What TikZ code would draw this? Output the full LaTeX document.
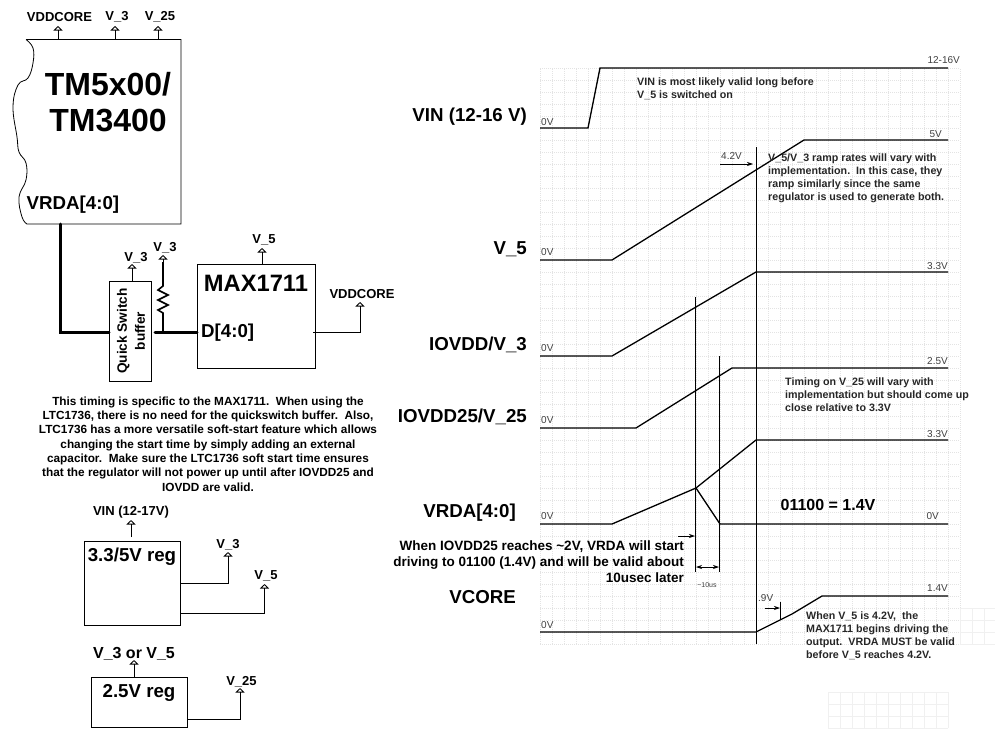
\documentclass[tikz,border=0pt]{standalone}
\usepackage{fontspec}
\setmainfont{Liberation Sans}
\usetikzlibrary{arrows.meta}
\tikzset{
    griddot/.style={gray!22, line width=0.4pt, dash pattern=on 1pt off 1pt, xstep=12pt, ystep=12pt},
    gridfaint/.style={gray!12, line width=0.4pt, xstep=12pt, ystep=12pt},
    wave/.style={line width=1.3pt},
    marker/.style={line width=0.7pt},
    measure/.style={line width=0.7pt, -{Stealth[length=6pt,width=4pt]}},
    measureboth/.style={line width=0.7pt, {Stealth[length=6pt,width=4pt]}-{Stealth[length=6pt,width=4pt]}},
    level/.style={font=\fontsize{10}{12}\selectfont, text=black!75, inner sep=0pt},
    signal/.style={font=\fontsize{18.7}{21}\selectfont\bfseries, inner sep=0pt, anchor=east},
    note/.style={font=\fontsize{10.7}{13}\selectfont\bfseries, text=black!85, inner sep=0pt, anchor=west, align=left},
    remark/.style={font=\fontsize{11.8}{14.3}\selectfont\bfseries, inner sep=0pt, align=center},
    blockbox/.style={draw, line width=0.8pt, inner sep=0pt},
    pintext/.style={font=\fontsize{13}{15}\selectfont\bfseries, inner sep=0pt},
    regname/.style={font=\fontsize{18.7}{21}\selectfont\bfseries, inner sep=0pt},
    pin/.style={line width=0.8pt, -{Triangle[open,length=4.5pt,width=9pt]}},
    bus/.style={line width=3pt},
    pullup/.style={line width=1.6pt}
}
\begin{document}
\begin{tikzpicture}[x=1pt, y=-1pt]
    \useasboundingbox (0,0) rectangle (995,728);

    % Grid
    \draw[griddot, shift={(0,8)}] (540,60) grid (960,636);
    \draw[gridfaint, shift={(0,8)}] (960,600) grid (995,636);
    \draw[gridfaint, shift={(0,8)}] (828,684) grid (948,720);

    % Waveforms
    \draw[wave] (540,128) -- (588,128) -- (600,68) -- (948,68);
    \draw[wave] (540,260) -- (612,260) -- (804,140) -- (948,140);
    \draw[wave] (540,356) -- (612,356) -- (756,272) -- (948,272);
    \draw[wave] (540,428) -- (636,428) -- (732,368) -- (948,368);
    \draw[wave] (540,524) -- (612,524) -- (696,488) -- (756,440) -- (948,440);
    \draw[wave] (696,488) -- (720,524) -- (948,524);
    \draw[wave] (540,632) -- (756,632) -- (792,614) -- (822,596) -- (948,596);

    % Vertical markers
    \draw[marker] (756,147) -- (756,644);
    \draw[marker] (695,297) -- (695,572);
    \draw[marker] (719,356) -- (719,572);
    \draw[marker] (780,602) -- (780,620);
    \draw[measure] (720,164) -- (753,164);
    \draw[measure] (678,536) -- (695,536);
    \draw[measureboth] (696,567) -- (719,567);
    \draw[measure] (765,608) -- (780,608);

    % Levels
    \node[level, anchor=west] (zeroVin) at (541,122) {0V};
    \node[level, anchor=west] (zeroFive) at (541,252) {0V};
    \node[level, anchor=west] (zeroThree) at (541,348) {0V};
    \node[level, anchor=west] (zeroTwo) at (541,420) {0V};
    \node[level, anchor=west] (zeroVrda) at (541,516) {0V};
    \node[level, anchor=west] (zeroCore) at (541,625) {0V};
    \node[level, anchor=east] (topVin) at (960,60) {12-16V};
    \node[level, anchor=east] (topFive) at (942,134) {5V};
    \node[level, anchor=east] (topThree) at (948,266) {3.3V};
    \node[level, anchor=east] (topTwo) at (948,361) {2.5V};
    \node[level, anchor=east] (topVrda) at (948,434) {3.3V};
    \node[level, anchor=east] (lowVrda) at (939,516) {0V};
    \node[level, anchor=east] (topCore) at (948,588) {1.4V};
    \node[level, anchor=west] (crossFour) at (721,156) {4.2V};
    \node[level, anchor=west] (crossNine) at (758,598) {.9V};
    \node[level, font=\fontsize{7}{8}\selectfont] (tenUs) at (707,585) {\textasciitilde10us};

    % Signal names
    \node[signal] (sigVin) at (527,117) {VIN (12-16 V)};
    \node[signal] (sigFive) at (527,249) {V\_5};
    \node[signal] (sigThree) at (527,345) {IOVDD/V\_3};
    \node[signal] (sigTwo) at (527,417) {IOVDD25/V\_25};
    \node[signal] (sigVrda) at (516,513) {VRDA[4:0]};
    \node[signal] (sigCore) at (516,597) {VCORE};

    % Notes on the timing
    \node[note] (noteVin) at (637,88.5) {VIN is most likely valid long before\\V\_5 is switched on};
    \node[note] (noteRamp) at (768,178.5) {V\_5/V\_3 ramp rates will vary with\\implementation.\ \ In this case, they\\ramp similarly since the same\\regulator is used to generate both.};
    \node[note] (noteTwo) at (785,395) {Timing on V\_25 will vary with\\implementation but should come up\\close relative to 3.3V};
    \node[note] (noteCore) at (806,636) {When V\_5 is 4.2V,\ \ the\\MAX1711 begins driving the\\output.\ \ VRDA MUST be valid\\before V\_5 reaches 4.2V.};
    \node[font=\fontsize{16}{18}\selectfont\bfseries, inner sep=0pt] (codeText) at (828,505) {01100 = 1.4V};
    \node[font=\fontsize{13.5}{16.3}\selectfont\bfseries, inner sep=0pt, align=right, anchor=east] (noteVrda) at (684,561.5) {When IOVDD25 reaches \textasciitilde2V, VRDA will start\\driving to 01100 (1.4V) and will be valid about\\10usec later};
    \node[remark] (noteMax) at (208,444) {This timing is specific to the MAX1711.\ \ When using the\\LTC1736, there is no need for the quickswitch buffer.\ \ Also,\\LTC1736 has a more versatile soft-start feature which allows\\changing the start time by simply adding an external\\capacitor.\ \ Make sure the LTC1736 soft start time ensures\\that the regulator will not power up until after IOVDD25 and\\IOVDD are valid.};

    % CPU block with torn edge
    \draw[line width=0.8pt] (26,39.5) -- (181,39.5) -- (181,224) -- (27,224)
        -- plot[smooth, tension=0.7] coordinates {(27,224) (22,217) (19,197) (26,180) (26,163) (19,152) (17,137) (13,107) (18,85) (28,78) (33,63) (33,48) (26,39.5)};
    \coordinate (cpuBus) at (60,224);
    \node[font=\fontsize{32}{36}\selectfont\bfseries, inner sep=0pt, align=center] (cpuName) at (108,102) {TM5x00/\\TM3400};
    \node[font=\fontsize{18.7}{21}\selectfont\bfseries, inner sep=0pt, anchor=west] (cpuVrda) at (26.5,205) {VRDA[4:0]};
    \node[pintext] (cpuCore) at (59.5,17) {VDDCORE};
    \node[pintext] (cpuThree) at (117,17) {V\_3};
    \node[pintext] (cpuTwo) at (160,17) {V\_25};
    \coordinate (tipCore) at (58,26);
    \coordinate (tipThree) at (115,26);
    \coordinate (tipTwo) at (158,26);
    \coordinate (cpuTop) at (58,39.5);
    \draw[pin] (cpuTop) -- (tipCore);
    \draw[pin] (cpuTop -| tipThree) -- (tipThree);
    \draw[pin] (cpuTop -| tipTwo) -- (tipTwo);

    % Buffer and regulator controller
    \node[blockbox, minimum width=42pt, minimum height=100pt] (buffer) at (130,331) {};
    \node[font=\fontsize{13.6}{18}\selectfont\bfseries, inner sep=0pt, align=center, rotate=90] (bufferText) at (131,331) {Quick Switch\\buffer};
    \node[blockbox, minimum width=118pt, minimum height=104pt] (maxChip) at (256,316) {};
    \node[font=\fontsize{23.7}{26}\selectfont\bfseries, inner sep=0pt] (maxName) at (256,283) {MAX1711};
    \node[font=\fontsize{18.7}{21}\selectfont\bfseries, inner sep=0pt, anchor=west] (maxBus) at (201,333) {D[4:0]};
    \coordinate (busLeft) at (109,332);
    \coordinate (busRight) at (155,332);
    \coordinate (busIn) at (197,332);
    \coordinate (pullNode) at (163,332);
    \draw[bus, line cap=round] (cpuBus) |- (busLeft);
    \draw[bus, line cap=round] (busRight) -- (busIn);
    \node[pintext] (bufThree) at (136,258) {V\_3};
    \node[pintext] (pullThree) at (165,248) {V\_3};
    \node[pintext] (maxFive) at (264,240) {V\_5};
    \node[pintext] (maxCore) at (362,294) {VDDCORE};
    \coordinate (tipBuf) at (132,264);
    \coordinate (tipPull) at (163,255);
    \coordinate (tipFive) at (262,248);
    \coordinate (tipOut) at (360,302);
    \coordinate (maxOut) at (313,332);
    \draw[pin] (buffer.north -| tipBuf) -- (tipBuf);
    \draw[pin] (maxChip.north -| tipFive) -- (tipFive);
    \draw[pin] (maxOut) -| (tipOut);
    \draw[pullup] (pullNode) -- (163,313) -- (158,310) -- (168,305) -- (158,300) -- (168,295) -- (158,290) -- (163,286) -- (163,262);
    \draw[pin] (163,262) -- (tipPull);

    % Power regulators
    \node[blockbox, minimum width=96pt, minimum height=84pt] (regMain) at (132,583) {};
    \node[regname] (regMainText) at (132,557) {3.3/5V reg};
    \node[blockbox, minimum width=96pt, minimum height=50pt] (regLow) at (139,702) {};
    \node[regname] (regLowText) at (139,693) {2.5V reg};
    \node[pintext] (regVin) at (131,512) {VIN (12-17V)};
    \node[pintext] (regThree) at (228,545) {V\_3};
    \node[pintext] (regFive) at (266,576) {V\_5};
    \node[pintext, font=\fontsize{16}{18}\selectfont\bfseries] (lowInput) at (134,654) {V\_3 or V\_5};
    \node[pintext] (lowTwo) at (241.5,682) {V\_25};
    \coordinate (tipVinFoot) at (131,537);
    \coordinate (tipVin) at (131,520);
    \coordinate (tipRegThree) at (228,552);
    \coordinate (tipRegFive) at (264.5,584);
    \coordinate (tipLow) at (134,660);
    \coordinate (tipLowTwo) at (240,688);
    \coordinate (outThree) at (180,583);
    \coordinate (outFive) at (180,613);
    \coordinate (outLow) at (187,719);
    \draw[pin] (tipVinFoot) -- (tipVin);
    \draw[pin] (outThree) -| (tipRegThree);
    \draw[pin] (outFive) -| (tipRegFive);
    \draw[pin] (regLow.north -| tipLow) -- (tipLow);
    \draw[pin] (outLow) -| (tipLowTwo);
\end{tikzpicture}
\end{document}
